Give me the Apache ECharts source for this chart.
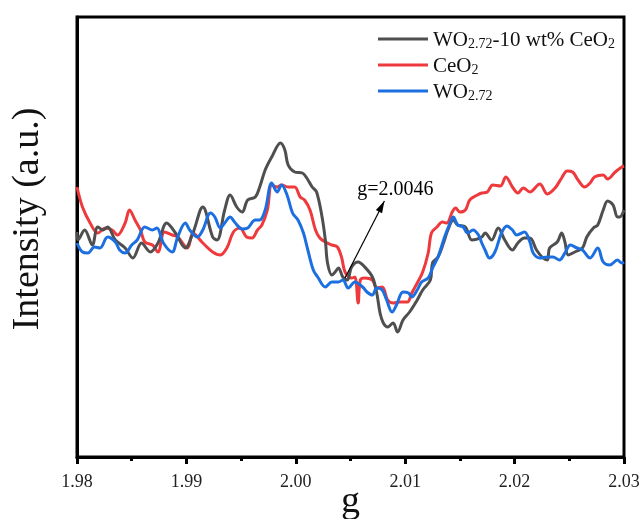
<!DOCTYPE html>
<html>
<head>
<meta charset="utf-8">
<script src="https://cdn.jsdelivr.net/npm/echarts@6/dist/echarts.min.js"></script>
<style>html,body{margin:0;padding:0;background:#fff}#c{width:640px;height:519px}</style>
</head>
<body>
<div id="c"></div>
<script>
// g values and intensities (a.u.)
const compositeG = [1.9800,1.9801,1.9807,1.9814,1.9819,1.9824,1.9828,1.9835,1.9844,1.9851,1.9859,1.9867,1.9874,1.9882,1.9890,1.9899,1.9906,1.9915,1.9924,1.9928,1.9935,1.9940,1.9946,1.9951,1.9956,1.9963,1.9967,1.9972,1.9978,1.9986,1.9990,1.9993,1.9999,2.0006,2.0010,2.0015,2.0019,2.0024,2.0027,2.0029,2.0033,2.0036,2.0039,2.0043,2.0047,2.0051,2.0057,2.0063,2.0070,2.0074,2.0077,2.0080,2.0084,2.0089,2.0093,2.0098,2.0104,2.0111,2.0116,2.0123,2.0125,2.0130,2.0135,2.0139,2.0144,2.0148,2.0155,2.0161,2.0170,2.0173,2.0179,2.0185,2.0191,2.0198,2.0203,2.0209,2.0214,2.0220,2.0226,2.0230,2.0232,2.0239,2.0243,2.0246,2.0249,2.0255,2.0262,2.0266,2.0272,2.0276,2.0281,2.0285,2.0290,2.0294,2.0296,2.0300];
const compositeI = [225,217,227,212,230,227,230,217,209,199,214,205,214,234,224,209,224,250,220,217,247,262,250,245,257,260,270,287,300,314,307,292,285,284,279,270,265,240,217,194,182,185,189,180,177,190,195,190,180,164,144,134,130,134,125,137,145,157,167,177,194,200,214,227,237,232,230,217,220,224,217,229,217,207,214,219,219,207,199,197,209,215,224,215,202,205,209,220,229,232,247,256,252,240,240,247];

const ceo2G = [1.9800,1.9805,1.9812,1.9819,1.9826,1.9832,1.9837,1.9844,1.9848,1.9853,1.9858,1.9862,1.9869,1.9874,1.9880,1.9887,1.9892,1.9901,1.9906,1.9915,1.9924,1.9931,1.9937,1.9943,1.9949,1.9955,1.9960,1.9965,1.9969,1.9974,1.9978,1.9983,1.9987,1.9993,1.9999,2.0004,2.0008,2.0013,2.0018,2.0022,2.0027,2.0033,2.0038,2.0042,2.0045,2.0051,2.0054,2.0057,2.0059,2.0063,2.0070,2.0074,2.0079,2.0084,2.0089,2.0095,2.0102,2.0106,2.0111,2.0116,2.0121,2.0124,2.0129,2.0134,2.0138,2.0143,2.0146,2.0150,2.0155,2.0159,2.0166,2.0170,2.0175,2.0180,2.0187,2.0192,2.0198,2.0203,2.0208,2.0214,2.0223,2.0230,2.0237,2.0243,2.0248,2.0253,2.0258,2.0264,2.0269,2.0273,2.0281,2.0285,2.0292,2.0298,2.0300];
const ceo2I = [270,250,234,224,229,227,222,234,247,237,227,215,212,205,225,222,220,209,224,214,205,202,209,225,229,220,219,227,232,247,272,270,272,270,270,260,257,247,227,219,215,212,210,199,185,179,180,154,177,179,177,169,170,157,154,155,155,164,174,185,204,224,230,235,234,245,249,245,247,257,262,264,265,272,271,280,270,264,269,265,273,263,269,279,286,285,277,270,274,280,282,278,285,290,291];

const wo272G = [1.9800,1.9805,1.9810,1.9816,1.9821,1.9828,1.9835,1.9839,1.9844,1.9850,1.9855,1.9862,1.9869,1.9873,1.9879,1.9887,1.9892,1.9899,1.9903,1.9910,1.9915,1.9922,1.9926,1.9931,1.9935,1.9940,1.9944,1.9951,1.9956,1.9963,1.9967,1.9972,1.9978,1.9983,1.9987,1.9992,1.9997,2.0002,2.0007,2.0011,2.0016,2.0020,2.0027,2.0033,2.0039,2.0043,2.0048,2.0054,2.0061,2.0065,2.0070,2.0074,2.0079,2.0083,2.0088,2.0092,2.0098,2.0103,2.0106,2.0111,2.0115,2.0121,2.0125,2.0130,2.0136,2.0141,2.0144,2.0148,2.0153,2.0157,2.0162,2.0167,2.0170,2.0173,2.0177,2.0182,2.0188,2.0193,2.0198,2.0202,2.0209,2.0214,2.0217,2.0223,2.0230,2.0235,2.0241,2.0246,2.0251,2.0257,2.0262,2.0269,2.0276,2.0281,2.0287,2.0294,2.0298,2.0300];
const wo272I = [214,205,204,210,209,220,215,207,204,212,217,230,227,229,214,205,220,234,227,220,227,244,240,229,234,240,235,228,229,237,237,247,274,265,272,262,244,237,224,207,187,180,170,175,175,177,169,175,170,165,162,169,167,157,145,152,165,164,160,167,175,179,189,200,220,234,240,232,230,224,227,222,214,207,199,205,224,231,227,222,225,215,204,199,200,200,197,204,212,209,207,199,209,195,192,197,194,195];

const seriesNames = ['WO2.72-10 wt% CeO2', 'CeO2', 'WO2.72'];
const legendLabels = {
  'WO2.72-10 wt% CeO2': '{n|WO}{s|2.72}{n|-10 wt% CeO}{s|2}',
  'CeO2': '{n|CeO}{s|2}',
  'WO2.72': '{n|WO}{s|2.72}'
};
const xTicks = { min: 1.98, max: 2.03, interval: 0.01 };
const yRange = { min: 0, max: 440 };
// annotation arrow (data coords) and label
const arrowStart = [2.0045, 179];
const arrowEnd = [2.0081, 256];
const annotText = 'g=2.0046';
const annotPos = [2.0091, 267];

function pairs(g, v) { return g.map((x, i) => [x, v[i]]); }

const serif = '"Liberation Serif","Times New Roman",serif';
const colors = ['#4f4f4f', '#ee3a3d', '#1c6fe0'];
const chart = echarts.init(document.getElementById('c'), null, { renderer: 'canvas' });

const mk = (name, data, color) => ({
  name, type: 'line', data, smooth: 0.35, symbol: 'none', showSymbol: false,
  lineStyle: { color, width: 3 }, itemStyle: { color }, animation: false
});

const s1 = mk(seriesNames[0], pairs(compositeG, compositeI), colors[0]);
const s2 = mk(seriesNames[1], pairs(ceo2G, ceo2I), colors[1]);
const s3 = mk(seriesNames[2], pairs(wo272G, wo272I), colors[2]);
s1.z = 3; s2.z = 2; s3.z = 4;
const annotSeries = {
  type: 'line', name: 'annot', data: [], silent: true, animation: false, z: 10,
  markLine: {
    silent: true, animation: false,
    symbol: ['none', 'none'],
    label: { show: false },
    lineStyle: { color: '#000', width: 1.2, type: 'solid', opacity: 1 },
    data: [[{ coord: arrowStart }, { coord: arrowEnd }]]
  },
  markPoint: {
    silent: true, animation: false, symbol: 'circle', symbolSize: 0,
    itemStyle: { color: 'transparent' },
    label: { show: true, position: 'inside', formatter: annotText, fontFamily: serif, fontSize: 20, color: '#000', textBorderWidth: 0 },
    data: [{ coord: annotPos }]
  }
};

chart.setOption({
  animation: false,
  backgroundColor: '#fff',
  grid: { left: 77, right: 16, top: 17, bottom: 62, containLabel: false, outerBoundsMode: 'none',
    show: true, borderColor: '#000', borderWidth: 3, backgroundColor: 'transparent' },
  legend: {
    data: seriesNames, orient: 'vertical', left: 378, top: 30, itemGap: 5, padding: 0,
    icon: 'rect', itemWidth: 50, itemHeight: 3,
    formatter: n => legendLabels[n],
    textStyle: {
      fontFamily: serif, color: '#111',
      rich: {
        n: { fontFamily: serif, fontSize: 21, color: '#111', lineHeight: 24, verticalAlign: 'bottom' },
        s: { fontFamily: serif, fontSize: 14, color: '#111', lineHeight: 4, verticalAlign: 'bottom' }
      }
    }
  },
  xAxis: {
    type: 'value', min: xTicks.min, max: xTicks.max, interval: xTicks.interval,
    name: 'g', nameLocation: 'middle', nameGap: 26, nameMoveOverlap: false,
    nameTextStyle: { fontFamily: serif, fontSize: 38, color: '#111' },
    axisLine: { show: true, lineStyle: { color: '#000', width: 3 } },
    axisTick: { show: true, inside: false, length: 7, lineStyle: { color: '#000', width: 3 } },
    minorTick: { show: true, splitNumber: 2, length: 4, lineStyle: { color: '#000', width: 3 } },
    splitLine: { show: false },
    axisLabel: { fontFamily: serif, fontSize: 18, color: '#222', margin: 16, formatter: v => v.toFixed(2) }
  },
  yAxis: {
    type: 'value', min: yRange.min, max: yRange.max,
    name: 'Intensity (a.u.)', nameLocation: 'middle', nameGap: 30, nameRotate: 90, nameMoveOverlap: false,
    nameTextStyle: { fontFamily: serif, fontSize: 38, color: '#111', padding: [0, 0, 0, 36] },
    axisLine: { show: true, lineStyle: { color: '#000', width: 3 } },
    axisTick: { show: false }, axisLabel: { show: false }, splitLine: { show: false }
  },
  series: [s1, s2, s3, annotSeries]
});

// arrowhead: a filled triangle at the arrow's end, oriented along the arrow (computed through the axes)
const p1 = chart.convertToPixel({ gridIndex: 0 }, arrowStart);
const p2 = chart.convertToPixel({ gridIndex: 0 }, arrowEnd);
const dx = p2[0] - p1[0], dy = p2[1] - p1[1];
const len = Math.sqrt(dx * dx + dy * dy);
const headLen = 12;
const hc = [p2[0] - dx / len * headLen / 2, p2[1] - dy / len * headLen / 2];
const rot = -Math.atan2(dx, -dy) * 180 / Math.PI;
chart.setOption({
  series: [{}, {}, {}, {
    markPoint: {
      silent: true, animation: false, symbol: 'circle', symbolSize: 0,
      itemStyle: { color: 'transparent' },
      label: { show: true, position: 'inside', formatter: annotText, fontFamily: serif, fontSize: 20, color: '#000', textBorderWidth: 0 },
      data: [
        { coord: annotPos },
        { x: hc[0], y: hc[1], symbol: 'triangle', symbolSize: [7, headLen], symbolRotate: rot,
          itemStyle: { color: '#000' }, label: { show: false } }
      ]
    }
  }]
});
</script>
</body>
</html>
